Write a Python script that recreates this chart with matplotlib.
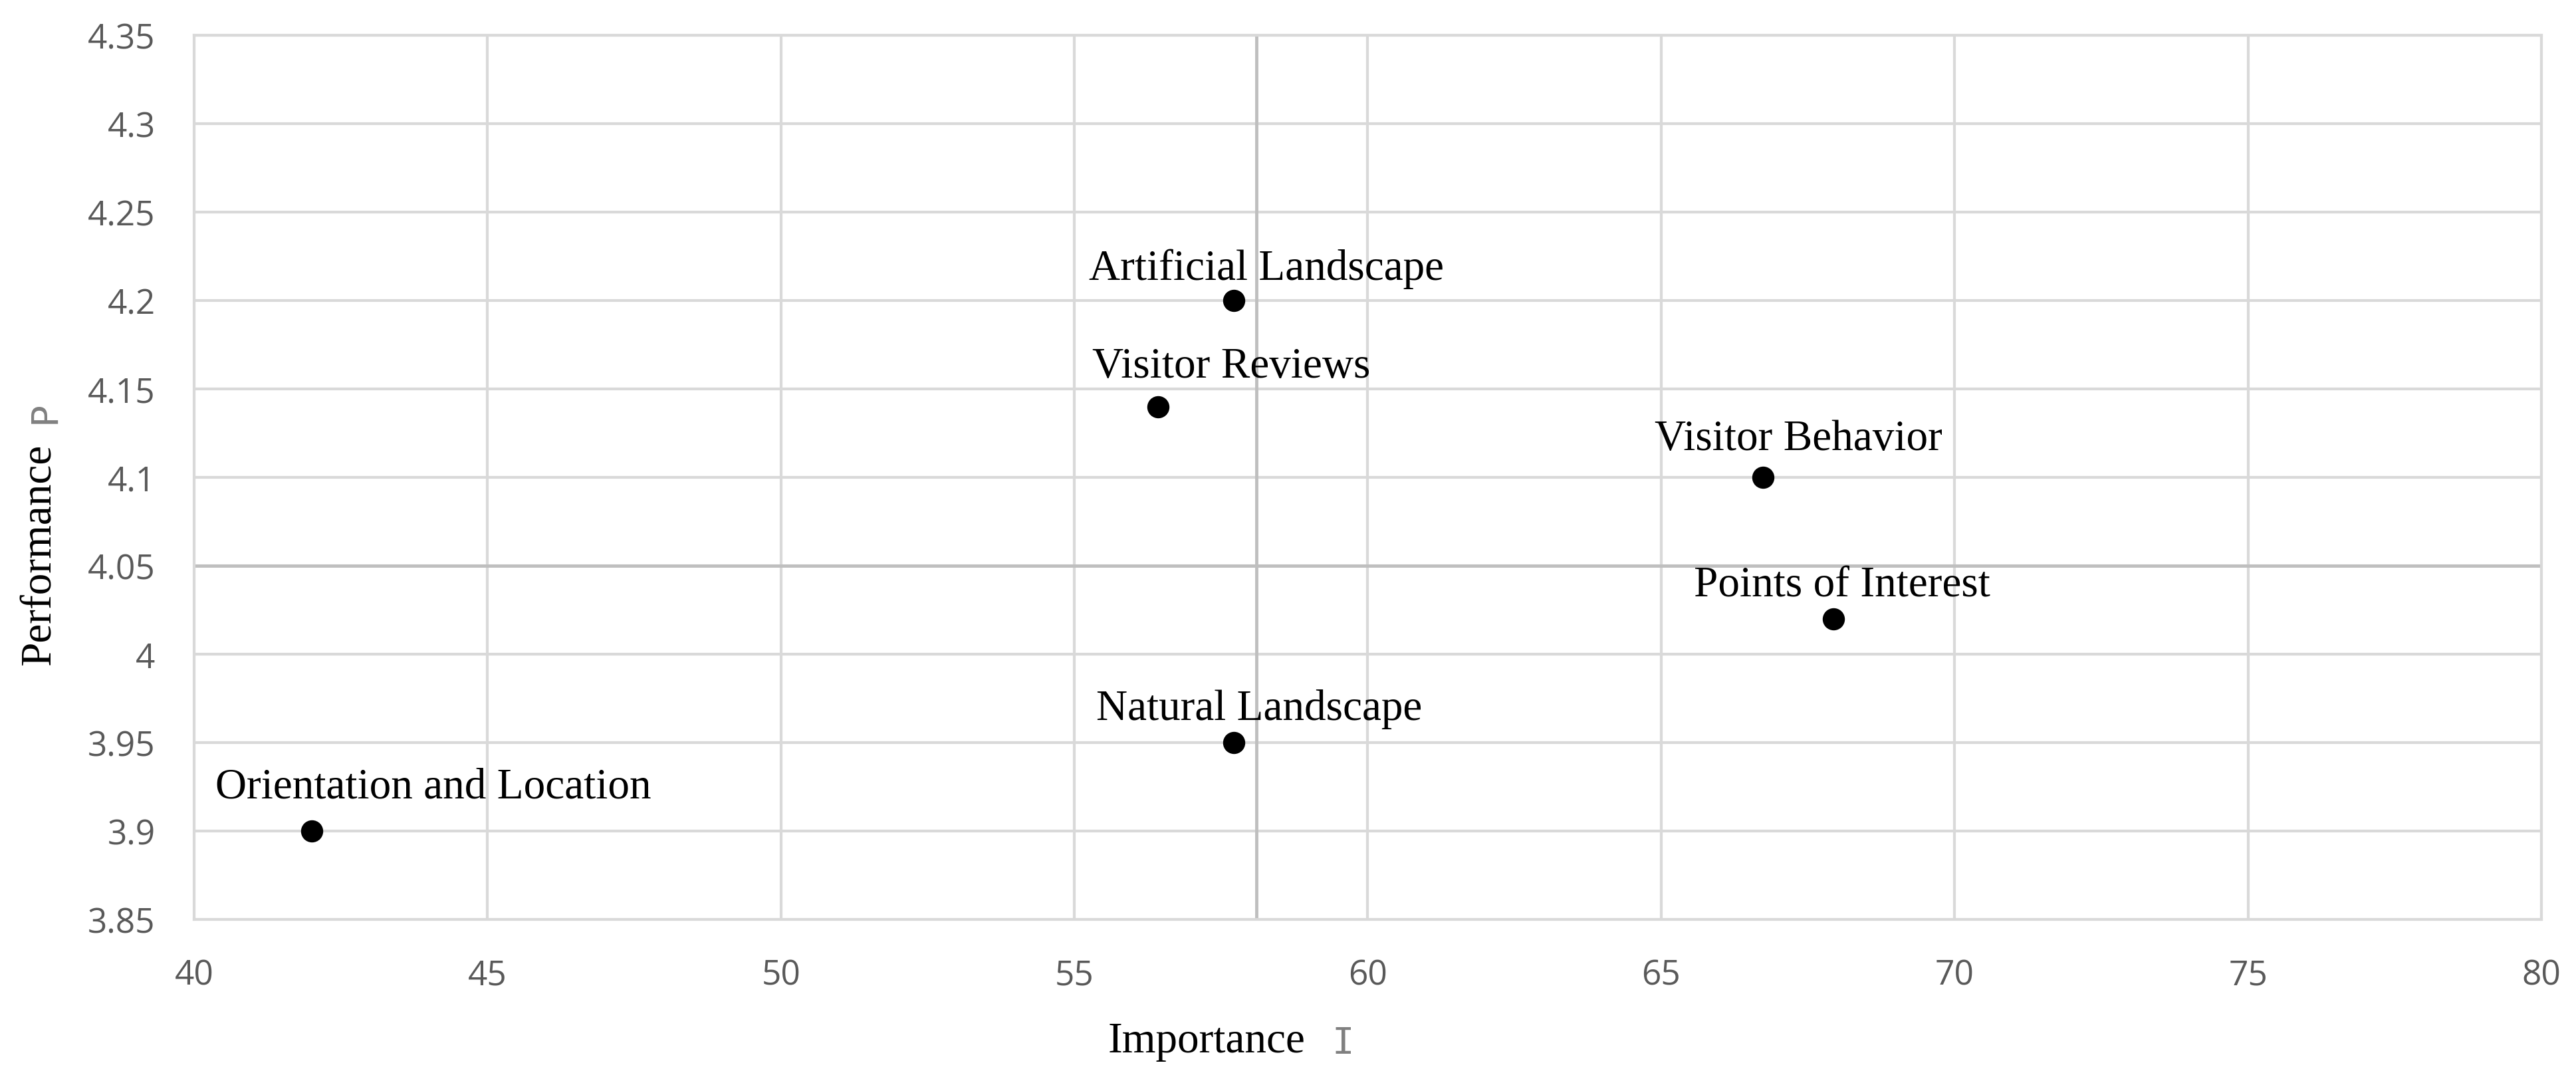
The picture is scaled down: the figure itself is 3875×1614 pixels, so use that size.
import matplotlib
matplotlib.use("Agg")
import matplotlib.pyplot as plt
from matplotlib.ticker import FuncFormatter

# data
factors = ["Artificial Landscape", "Visitor Reviews", "Visitor Behavior",
           "Points of Interest", "Natural Landscape", "Orientation and Location"]
importance = [57.72, 56.43, 66.74, 67.93, 57.72, 42.0]
performance = [4.20, 4.14, 4.10, 4.02, 3.95, 3.90]

# dividing lines of the IPA quadrants
importance_mean = 58.1
performance_mean = 4.05

x_ticks = [40, 45, 50, 55, 60, 65, 70, 75, 80]
y_ticks = [3.85, 3.9, 3.95, 4.0, 4.05, 4.1, 4.15, 4.2, 4.25, 4.3, 4.35]

# label offsets (pixels) from each point to the label's baseline centre
label_dx = [49, 110, 53, 13, 38, 183]
label_dy = [32, 45, 42, 34, 35, 51]

GRID = "#d9d9d9"
MEAN = "#bfbfbf"
TICK = "#595959"
SERIF = "Liberation Serif"


def main():
  fig = plt.figure(figsize=(38.75, 16.15), dpi=100)
  ax = fig.add_axes([0.07535, 0.14303, 0.91123, 0.82353])

  ax.set_xlim(40, 80)
  ax.set_ylim(3.85, 4.35)
  ax.set_xticks(x_ticks)
  ax.set_yticks(y_ticks)
  ax.yaxis.set_major_formatter(FuncFormatter(lambda v, p: "{:g}".format(round(v, 2))))
  ax.grid(True, color=GRID, linewidth=3)
  ax.set_axisbelow(True)
  for s in ax.spines.values():
    s.set_color(GRID)
    s.set_linewidth(3)

  ax.tick_params(length=0, labelsize=37, labelcolor=TICK, pad=42)
  for lab in ax.get_xticklabels() + ax.get_yticklabels():
    lab.set_family("Open Sans")

  # quadrant lines
  ax.axvline(importance_mean, color=MEAN, linewidth=3.5, zorder=2)
  ax.axhline(performance_mean, color=MEAN, linewidth=3.5, zorder=2)

  ax.scatter(importance, performance, s=530, color="black", zorder=3)

  for name, x, y, dx, dy in zip(factors, importance, performance, label_dx, label_dy):
    ax.annotate(name, (x, y), xytext=(dx, dy), textcoords="offset pixels",
                ha="center", va="baseline", fontsize=47, family=SERIF,
                color="black", zorder=4)

  # axis titles
  fig.text(0.4684, 0.0198, "Importance", ha="center", va="baseline",
           fontsize=47, family=SERIF, color="black")
  fig.text(0.5213, 0.0185, "I", ha="center", va="baseline",
           fontsize=40, family="DejaVu Sans Mono", color="#808080")
  fig.text(0.0155, 0.4836, "Performance", ha="center", va="center",
           rotation=90, fontsize=47, family=SERIF, color="black")
  fig.text(0.0175, 0.616, "P", ha="center", va="center",
           rotation=90, fontsize=40, family="DejaVu Sans Mono", color="#808080")

  fig.savefig("out.png", dpi=100, facecolor="white")


if __name__ == "__main__":
  main()
